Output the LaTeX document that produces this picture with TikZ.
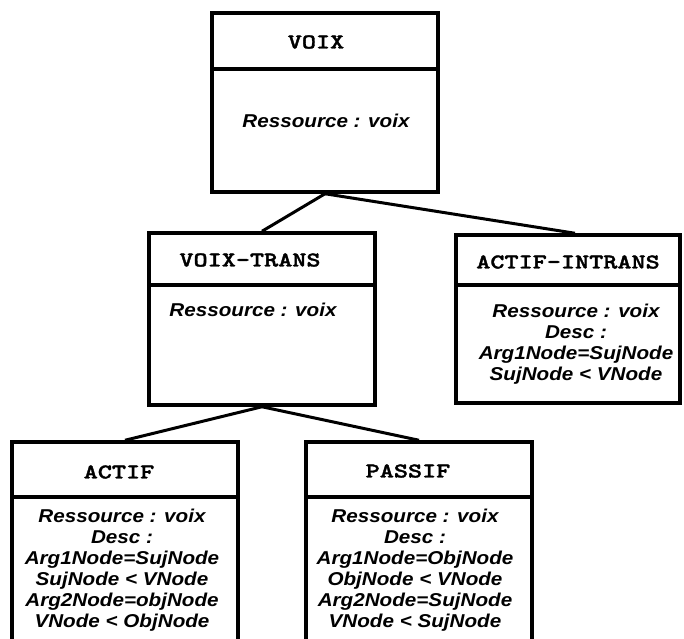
\documentclass[tikz,border=0pt]{standalone}
\usepackage{fontspec}
\newfontfamily\titlefont{lmmonolt10-bold.otf}[FakeStretch=1.28, FakeBold=1.6]
\newfontfamily\descfont{Liberation Sans}[FakeStretch=1.11]

\begin{document}
\begin{tikzpicture}[x=1pt,y=-1pt,
  frame/.style={draw, line width=3.5pt, inner sep=0pt},
  title/.style={inner sep=0pt, font=\titlefont\fontsize{21}{21}\selectfont},
  desc/.style={inner sep=0pt, align=center,
    font=\descfont\bfseries\itshape\fontsize{18.6}{21}\selectfont},
  link/.style={line width=3pt}]
\useasboundingbox (0,0) rectangle (684,638);
\clip (0,0) rectangle (684,638);

% class boxes: header part and body part
\node[frame, minimum width=226pt, minimum height=56pt]  (voixH) at (325,41)    {};
\node[frame, minimum width=226pt, minimum height=123pt] (voixB) at (325,130.5) {};

\node[frame, minimum width=226pt, minimum height=52pt]  (vtH) at (262,259) {};
\node[frame, minimum width=226pt, minimum height=120pt] (vtB) at (262,345) {};

\node[frame, minimum width=224pt, minimum height=50pt]  (aiH) at (568,260) {};
\node[frame, minimum width=224pt, minimum height=118pt] (aiB) at (568,344) {};

\node[frame, minimum width=226pt, minimum height=55pt]  (acH) at (125,469.5) {};
\node[frame, minimum width=226pt, minimum height=163pt] (acB) at (125,578.5) {};

\node[frame, minimum width=226pt, minimum height=55pt]  (paH) at (419,469.5) {};
\node[frame, minimum width=226pt, minimum height=163pt] (paB) at (419,578.5) {};

% class names
\node[title] (voixT) at (316,42)  {VOIX};
\node[title] (vtT)   at (250,260) {VOIX-TRANS};
\node[title] (aiT)   at (568,262) {ACTIF-INTRANS};
\node[title] (acT)   at (119,472) {ACTIF};
\node[title] (paT)   at (408,471) {PASSIF};

% class contents
\node[desc] (voixD) at (326,121) {Ressource : voix};
\node[desc] (vtD)   at (253,310) {Ressource : voix};
\node[desc, anchor=north] (aiD) at (576,303.5)
  {Ressource : voix\\Desc :\\Arg1Node=SujNode\\SujNode < VNode};
\node[desc, anchor=north] (acD) at (122,508.5)
  {Ressource : voix\\Desc :\\Arg1Node=SujNode\\SujNode < VNode\\Arg2Node=objNode\\VNode < ObjNode};
\node[desc, anchor=north] (paD) at (415,508.5)
  {Ressource : voix\\Desc :\\Arg1Node=ObjNode\\ObjNode < VNode\\Arg2Node=SujNode\\VNode < SujNode};

% inheritance links
\draw[link] (voixB.south) -- (vtH.north);
\draw[link] (voixB.south) -- ([xshift=7pt]aiH.north);
\draw[link] (vtB.south) -- (acH.north);
\draw[link] (vtB.south) -- (paH.north);
\end{tikzpicture}
\end{document}
